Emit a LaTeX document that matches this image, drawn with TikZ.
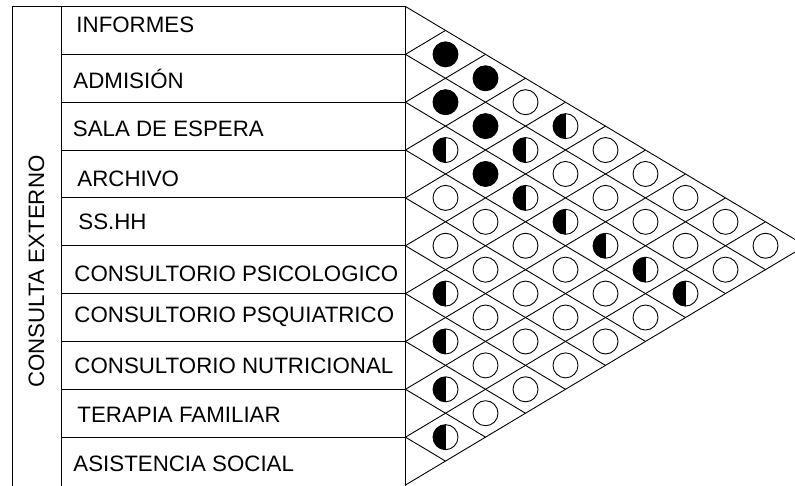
\documentclass[tikz,border=0pt]{standalone}
\usepackage{fontspec}
\setmainfont{Liberation Sans}
\begin{document}
\begin{tikzpicture}[x=1pt,y=-1pt,line width=0.9pt,
  lbl/.style={anchor=base west,inner sep=0pt,font=\fontsize{22.3}{22.3}\selectfont},
  opn/.style={circle,draw,fill=white,minimum size=25pt,inner sep=0pt},
  ful/.style={opn,fill=black},
  hlf/.style={opn,path picture={\fill[black] (path picture bounding box.north west) rectangle (path picture bounding box.south);}}]
\useasboundingbox (0,0) rectangle (795,486);
\clip (0,0) rectangle (795,486);
\def\T{6.5}\def\H{47.85}\def\R{405.5}\def\D{40}
% outer box
\draw (12.5,520) -- (12.5,\T) -- (\R,\T) -- (\R,520);
\draw (61,\T) -- (61,520);
\foreach \k in {1,...,9}{\draw (61,\T+\k*\H) -- (\R,\T+\k*\H);}
% diagonal grid
\foreach \k in {0,...,10}{
  \coordinate (b\k) at (\R,\T+\k*\H);
  \draw (b\k) -- ++({(10-\k)*\D},{(10-\k)*\H/2});
  \draw (b\k) -- ++({\k*\D},{-\k*\H/2});
}
% labels
\node[lbl] (l0) at (76,33) {INFORMES};
\node[lbl] (l1) at (73,89) {ADMISIÓN};
\node[lbl] (l2) at (72.5,137) {SALA DE ESPERA};
\node[lbl] (l3) at (77,187) {ARCHIVO};
\node[lbl] (l4) at (78,230) {SS.HH};
\node[lbl] (l5) at (74,282) {CONSULTORIO PSICOLOGICO};
\node[lbl] (l6) at (74,323) {CONSULTORIO PSQUIATRICO};
\node[lbl] (l7) at (74,373) {CONSULTORIO NUTRICIONAL};
\node[lbl] (l8) at (77,422) {TERAPIA FAMILIAR};
\node[lbl] (l9) at (73,471) {ASISTENCIA SOCIAL};
\node[inner sep=0pt,rotate=90,font=\fontsize{22.3}{22.3}\selectfont] (grp) at (36.5,271.5) {CONSULTA EXTERNO};
% relation marks
\foreach \i/\j/\s in {0/1/ful,0/2/ful,0/3/opn,0/4/hlf,0/5/opn,0/6/opn,0/7/opn,0/8/opn,0/9/opn,
  1/2/ful,1/3/ful,1/4/hlf,1/5/opn,1/6/opn,1/7/opn,1/8/opn,1/9/opn,
  2/3/hlf,2/4/ful,2/5/hlf,2/6/hlf,2/7/hlf,2/8/hlf,2/9/hlf,
  3/4/opn,3/5/opn,3/6/opn,3/7/opn,3/8/opn,3/9/opn,
  4/5/opn,4/6/opn,4/7/opn,4/8/opn,4/9/opn,
  5/6/hlf,5/7/opn,5/8/opn,5/9/opn,
  6/7/hlf,6/8/opn,6/9/opn,
  7/8/hlf,7/9/opn,
  8/9/hlf}{
  \node[\s] (c\i-\j) at ({\R+(\j-\i)*\D},{\T+\H*(\i+\j+1)/2}) {};
}
\end{tikzpicture}
\end{document}
